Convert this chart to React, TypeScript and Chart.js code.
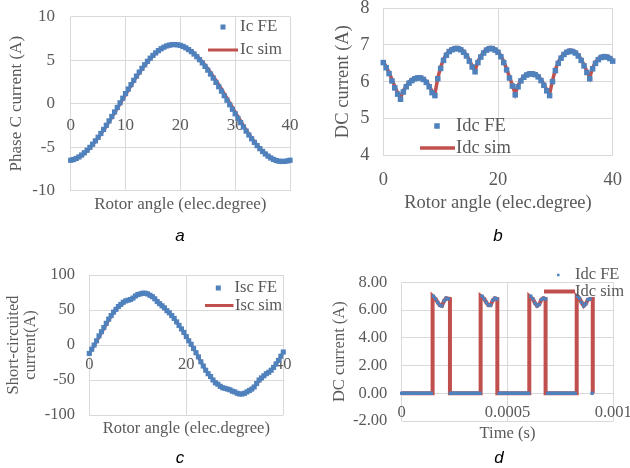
import React, { useEffect, useRef } from "react";
import { Chart, registerables } from "chart.js";

Chart.register(...registerables);

const BLUE = "#4F81BD";
const RED = "#C0504D";
const GRID = "#D9D9D9";
const TEXT = "#595959";
const SERIF = "'Liberation Serif', 'Times New Roman', Times, serif";
const SANS = "'Liberation Sans', Arial, Helvetica, sans-serif";

// ---------- shared x values ----------
const angleFine = [0,0.5,1,1.5,2,2.5,3,3.5,4,4.5,5,5.5,6,6.5,7,7.5,8,8.5,9,9.5,10,10.5,11,11.5,12,12.5,13,13.5,14,14.5,15,15.5,16,16.5,17,17.5,18,18.5,19,19.5,20,20.5,21,21.5,22,22.5,23,23.5,24,24.5,25,25.5,26,26.5,27,27.5,28,28.5,29,29.5,30,30.5,31,31.5,32,32.5,33,33.5,34,34.5,35,35.5,36,36.5,37,37.5,38,38.5,39,39.5,40];
const angleCoarse = [0,1,2,3,4,5,6,7,8,9,10,11,12,13,14,15,16,17,18,19,20,21,22,23,24,25,26,27,28,29,30,31,32,33,34,35,36,37,38,39,40];

// ---------- panel a ----------
const xTitleA = "Rotor angle (elec.degree)";
const yTitleA = "Phase C current (A)";
const feNameA = "Ic FE";
const simNameA = "Ic sim";
const xTicksA = [0, 10, 20, 30, 40];
const xTickLabelsA = ["0", "10", "20", "30", "40"];
const yTicksA = [-10, -5, 0, 5, 10];
const yTickLabelsA = ["-10", "-5", "0", "5", "10"];
const icFE = [
  -6.50,-6.42,-6.30,-6.12,-5.90,-5.64,-5.35,-5.02,-4.66,-4.27,
  -3.86,-3.42,-2.96,-2.48,-1.98,-1.47,-0.95,-0.43,0.10,0.63,
  1.16,1.68,2.19,2.69,3.17,3.63,4.07,4.48,4.87,5.23,
  5.55,5.84,6.10,6.32,6.50,6.64,6.73,6.79,6.80,6.77,
  6.70,6.58,6.42,6.22,5.98,5.71,5.40,5.06,4.69,4.29,
  3.86,3.41,2.94,2.45,1.95,1.44,0.92,0.40,-0.12,-0.64,
  -1.16,-1.68,-2.18,-2.67,-3.15,-3.60,-4.03,-4.44,-4.82,-5.17,
  -5.49,-5.78,-6.03,-6.24,-6.41,-6.53,-6.61,-6.64,-6.63,-6.58,
  -6.50
];
const icSim = [-6.55,-6.38,-5.98,-5.42,-4.75,-3.95,-3.08,-2.12,-1.10,-0.05,1.00,2.05,3.05,3.95,4.75,5.45,6.02,6.44,6.70,6.80,6.72,6.48,6.08,5.52,4.84,4.05,3.18,2.22,1.20,0.15,-0.92,-1.97,-2.98,-3.90,-4.72,-5.42,-5.98,-6.38,-6.62,-6.68,-6.58];

// ---------- panel b ----------
const xTitleB = "Rotor angle (elec.degree)";
const yTitleB = "DC current (A)";
const feNameB = "Idc FE";
const simNameB = "Idc sim";
const xTicksB = [0, 20, 40];
const xTickLabelsB = ["0", "20", "40"];
const yTicksB = [4, 5, 6, 7, 8];
const yTickLabelsB = ["4", "5", "6", "7", "8"];
const idcFE = [
  6.52,6.38,6.22,6.02,5.83,5.66,5.52,5.72,5.86,5.96,
  6.03,6.08,6.10,6.10,6.06,5.98,5.86,5.70,5.62,6.08,
  6.36,6.58,6.72,6.82,6.87,6.90,6.90,6.87,6.80,6.70,
  6.56,6.40,6.27,6.52,6.67,6.78,6.86,6.90,6.90,6.86,
  6.80,6.68,6.52,6.32,6.10,5.88,5.64,5.86,6.02,6.12,
  6.18,6.21,6.21,6.19,6.13,6.03,5.90,5.75,5.62,6.00,
  6.30,6.50,6.64,6.74,6.80,6.83,6.82,6.78,6.70,6.58,
  6.43,6.25,6.08,6.35,6.50,6.60,6.66,6.68,6.67,6.63,
  6.56
];
const idcSim = [
  6.55,6.41,6.25,6.06,5.87,5.70,5.56,5.75,5.89,5.99,
  6.06,6.11,6.13,6.13,6.09,6.01,5.89,5.74,5.66,6.10,
  6.39,6.61,6.75,6.85,6.90,6.93,6.93,6.90,6.83,6.73,
  6.59,6.43,6.30,6.55,6.70,6.81,6.89,6.93,6.93,6.89,
  6.83,6.71,6.55,6.35,6.13,5.91,5.67,5.89,6.05,6.15,
  6.21,6.24,6.24,6.22,6.16,6.06,5.93,5.78,5.66,6.03,
  6.33,6.53,6.67,6.77,6.83,6.86,6.85,6.81,6.73,6.61,
  6.46,6.28,6.11,6.38,6.53,6.63,6.69,6.71,6.70,6.66,
  6.59
];

// ---------- panel c ----------
const xTitleC = "Rotor angle (elec.degree)";
const yTitleC = ["Short-circuited", "current(A)"];
const feNameC = "Isc FE";
const simNameC = "Isc sim";
const xTicksC = [0, 20, 40];
const xTickLabelsC = ["0", "20", "40"];
const yTicksC = [-100, -50, 0, 50, 100];
const yTickLabelsC = ["-100", "-50", "0", "50", "100"];
const iscFE = [
  -12,-6,0,6,13,19,25,31,37,42,
  47,51,55,58,61,63,64,65,67,70,
  72,73,74,74,73,71,69,66,62,59,
  56,53,49,46,42,38,33,28,23,18,
  12,6,1,-5,-11,-17,-24,-30,-36,-41,
  -45,-50,-54,-56,-59,-61,-62,-63,-64,-66,
  -67,-69,-70,-70,-69,-67,-65,-63,-60,-55,
  -50,-47,-44,-41,-39,-36,-32,-27,-22,-16,
  -10
];
const iscSim = [-13,-1,11,23,35,46,54,60,64,67,71,74,74,70,63,56,49,42,33,23,12,1,-11,-24,-36,-45,-53,-58,-62,-65,-68,-70,-69,-65,-59,-52,-45,-39,-32,-22,-10];

// ---------- panel d ----------
const xTitleD = "Time (s)";
const yTitleD = "DC current (A)";
const feNameD = "Idc FE";
const simNameD = "Idc sim";
const xTicksD = [0, 0.0005, 0.001];
const xTickLabelsD = ["0", "0.0005", "0.001"];
const yTicksD = [-2, 0, 2, 4, 6, 8];
const yTickLabelsD = ["-2.00", "0.00", "2.00", "4.00", "6.00", "8.00"];
const timeFeUs = [0,10,20,30,40,50,60,70,80,90,100,110,120,130,140,150,160,170,180,190,200,210,220,230,240,250,260,270,280,290,300,310,320,330,340,350,360,370,380,390,400,410,420,430,440,450,460,470,480,490,500,510,520,530,540,550,560,570,580,590,600,610,620,630,640,650,660,670,680,690,700,710,720,730,740,750,760,770,780,790,800,810,820,830,840,850,860,870,880,890,900];
const idcFeD = [
  0,0,0,0,0,0,0,0,0,0,0,0,0,0,0,
  7.0,6.8,6.55,6.35,6.3,6.65,6.85,6.8,
  0,0,0,0,0,0,0,0,0,0,0,0,0,0,0,
  7.0,6.8,6.55,6.35,6.35,6.7,6.85,6.8,
  0,0,0,0,0,0,0,0,0,0,0,0,0,0,0,
  7.0,6.8,6.5,6.3,6.4,6.75,6.85,6.8,
  0,0,0,0,0,0,0,0,0,0,0,0,0,0,
  7.0,6.85,6.55,6.3,6.45,6.75,6.8,
  0
];
const timeSimUs = [0,146,146,160,170,180,190,200,210,228,228,373,373,390,400,410,420,430,440,452,452,603,603,620,630,640,650,660,670,680,680,827,827,840,850,860,870,880,890,903,903];
const idcSimD = [0,0,7.0,6.8,6.55,6.35,6.3,6.65,6.85,6.8,0,0,7.0,6.8,6.55,6.35,6.35,6.7,6.85,6.8,0,0,7.0,6.8,6.5,6.3,6.4,6.75,6.85,6.8,0,0,7.0,6.85,6.55,6.3,6.45,6.75,6.8,6.8,0];

// ---------- panel specs (layout/style) ----------
const specA = {
  geo: { L: 0, T: 0, W: 315, H: 230, left: 70.7, top: 16.7, right: 290, bottom: 190.7 },
  fs: 17,
  x: { min: 0, max: 40, ticks: xTicksA, labels: xTickLabelsA, atZero: true, tickY: 126, titleY: 205, title: xTitleA },
  y: { min: -10, max: 10, ticks: yTicksA, labels: yTickLabelsA, tickRight: 55, titleX: 17, title: yTitleA, lh: 1.2 },
  fe: { name: feNameA, x: angleFine, y: icFE, r: 3.7 },
  sim: { name: simNameA, x: angleCoarse, y: icSim, w: 3, tension: 0.3 },
  legend: [
    { kind: "point", mx: 223, y: 27, size: 5, text: feNameA, tx: 240 },
    { kind: "line", x1: 208, x2: 238, y: 50, size: 3, text: simNameA, tx: 240 },
  ],
};
const specB = {
  geo: { L: 315, T: 0, W: 315, H: 230, left: 383.3, top: 8.3, right: 612.7, bottom: 155 },
  fs: 18.5,
  x: { min: 0, max: 40, ticks: xTicksB, labels: xTickLabelsB, atZero: false, tickY: 180, titleY: 203, title: xTitleB },
  y: { min: 4, max: 8, ticks: yTicksB, labels: yTickLabelsB, tickRight: 369.5, titleX: 343.3, title: yTitleB, lh: 1.2 },
  fe: { name: feNameB, x: angleFine, y: idcFE, r: 3.9 },
  sim: { name: simNameB, x: angleFine, y: idcSim, w: 3.5, tension: 0 },
  legend: [
    { kind: "point", mx: 437, y: 126, size: 5.5, text: feNameB, tx: 456 },
    { kind: "line", x1: 420, x2: 455, y: 148, size: 3.5, text: simNameB, tx: 456 },
  ],
};
const specC = {
  geo: { L: 0, T: 235, W: 315, H: 215, left: 89.3, top: 275, right: 283.3, bottom: 415 },
  fs: 16.5,
  x: { min: 0, max: 40, ticks: xTicksC, labels: xTickLabelsC, atZero: true, tickY: 365, titleY: 428.3, title: xTitleC },
  y: { min: -100, max: 100, ticks: yTicksC, labels: yTickLabelsC, tickRight: 75, titleX: 13.3, title: yTitleC, lh: 1.05 },
  fe: { name: feNameC, x: angleFine, y: iscFE, r: 3.6 },
  sim: { name: simNameC, x: angleCoarse, y: iscSim, w: 3, tension: 0.3 },
  legend: [
    { kind: "point", mx: 218.3, y: 288, size: 5, text: feNameC, tx: 234.5 },
    { kind: "line", x1: 205, x2: 233.5, y: 305.5, size: 3, text: simNameC, tx: 235 },
  ],
};
const specD = {
  geo: { L: 315, T: 235, W: 315, H: 215, left: 401.7, top: 282.3, right: 613.3, bottom: 421 },
  fs: 16.5,
  x: { min: 0, max: 0.001, ticks: xTicksD, labels: xTickLabelsD, atZero: true, tickY: 413, titleY: 434, title: xTitleD },
  y: { min: -2, max: 8, ticks: yTicksD, labels: yTickLabelsD, tickRight: 387.3, titleX: 340, title: yTitleD, lh: 1.2 },
  fe: { name: feNameD, x: timeFeUs.map((t) => t / 1e6), y: idcFeD, r: 2.4 },
  sim: { name: simNameD, x: timeSimUs.map((t) => t / 1e6), y: idcSimD, w: 4, tension: 0 },
  legend: [
    { kind: "point", mx: 558.3, y: 275, size: 2.5, text: feNameD, tx: 575 },
    { kind: "line", x1: 544, x2: 575, y: 291.5, size: 4, text: simNameD, tx: 575 },
  ],
};

function makeLegendPlugin(spec: any) {
  return {
    id: "inlineLegend",
    afterDraw(chart: any) {
      const { ctx } = chart;
      const g = spec.geo;
      ctx.save();
      ctx.font = `${spec.fs}px ${SERIF}`;
      ctx.textBaseline = "middle";
      ctx.textAlign = "left";
      for (const row of spec.legend) {
        const y = row.y - g.T;
        if (row.kind === "point") {
          ctx.fillStyle = BLUE;
          ctx.fillRect(row.mx - g.L - row.size / 2, y - row.size / 2, row.size, row.size);
        } else {
          ctx.strokeStyle = RED;
          ctx.lineWidth = row.size;
          ctx.beginPath();
          ctx.moveTo(row.x1 - g.L, y);
          ctx.lineTo(row.x2 - g.L, y);
          ctx.stroke();
        }
        ctx.fillStyle = TEXT;
        ctx.fillText(row.text, row.tx - g.L, y);
      }
      ctx.restore();
    },
  };
}

function buildConfig(s: any): any {
  const g = s.geo;
  const font = { family: SERIF, size: s.fs, lineHeight: 1.2 };
  const lh = s.fs * 1.2;
  const xs = s.x;
  const ys = s.y;
  const zeroY = g.top + (ys.max / (ys.max - ys.min)) * (g.bottom - g.top);
  const tickAxisY = xs.atZero ? zeroY : g.bottom;
  const xTickPad = xs.tickY - tickAxisY - lh / 2;
  const yTitleLhPx = s.fs * ys.lh;
  const setTicks = (vals: number[]) => (axis: any) => {
    axis.ticks = vals.map((v) => ({ value: v }));
  };
  const fmt = (labels: string[]) => (_v: any, i: number) => labels[i];

  const scales: any = {
    x: {
      type: "linear",
      min: xs.min,
      max: xs.max,
      position: "bottom",
      border: { display: false },
      grid: { color: GRID, lineWidth: 1, drawTicks: false },
      ticks: {
        display: !xs.atZero,
        color: TEXT,
        font,
        padding: xTickPad,
        autoSkip: false,
        maxRotation: 0,
        callback: fmt(xs.labels),
      },
      afterBuildTicks: setTicks(xs.ticks),
      title: {
        display: true,
        text: xs.title,
        color: TEXT,
        font,
        padding: { top: 0, bottom: g.H - (xs.titleY - g.T) - lh / 2 },
      },
      afterFit: (a: any) => {
        a.height = g.T + g.H - g.bottom;
        a.paddingLeft = 0;
        a.paddingRight = 0;
      },
    },
    y: {
      type: "linear",
      min: ys.min,
      max: ys.max,
      position: "left",
      border: { display: false },
      grid: { color: GRID, lineWidth: 1, drawTicks: false },
      ticks: {
        color: TEXT,
        font,
        padding: g.left - ys.tickRight,
        autoSkip: false,
        callback: fmt(ys.labels),
      },
      afterBuildTicks: setTicks(ys.ticks),
      title: {
        display: true,
        text: ys.title,
        color: TEXT,
        font: { family: SERIF, size: s.fs, lineHeight: ys.lh },
        padding: { top: ys.titleX - g.L - yTitleLhPx / 2, bottom: 0 },
      },
      afterFit: (a: any) => {
        a.width = g.left - g.L;
        a.paddingTop = 0;
        a.paddingBottom = 0;
      },
    },
  };
  if (xs.atZero) {
    scales.x2 = {
      type: "linear",
      min: xs.min,
      max: xs.max,
      position: { y: 0 },
      border: { display: false },
      grid: { display: false, drawTicks: false },
      ticks: {
        color: TEXT,
        font,
        padding: xTickPad,
        autoSkip: false,
        maxRotation: 0,
        callback: fmt(xs.labels),
      },
      afterBuildTicks: setTicks(xs.ticks),
      afterFit: (a: any) => {
        a.paddingLeft = 0;
        a.paddingRight = 0;
      },
    };
  }

  return {
    type: "line",
    data: {
      datasets: [
        {
          label: s.fe.name,
          data: s.fe.x.map((x: number, i: number) => ({ x, y: s.fe.y[i] })),
          showLine: false,
          pointStyle: "rect",
          pointRadius: s.fe.r,
          pointHoverRadius: s.fe.r,
          pointBackgroundColor: BLUE,
          pointBorderColor: BLUE,
          pointBorderWidth: 0,
          clip: false,
          xAxisID: "x",
          yAxisID: "y",
        },
        {
          label: s.sim.name,
          data: s.sim.x.map((x: number, i: number) => ({ x, y: s.sim.y[i] })),
          borderColor: RED,
          backgroundColor: RED,
          borderWidth: s.sim.w,
          pointRadius: 0,
          pointHoverRadius: 0,
          tension: s.sim.tension,
          fill: false,
          clip: false,
          xAxisID: "x",
          yAxisID: "y",
        },
      ],
    },
    options: {
      responsive: false,
      animation: false,
      devicePixelRatio: 1,
      events: [],
      layout: {
        padding: { left: 0, top: g.top - g.T, right: g.L + g.W - g.right, bottom: 0 },
      },
      plugins: {
        legend: { display: false },
        tooltip: { enabled: false },
      },
      scales,
    },
    plugins: [makeLegendPlugin(s)],
  };
}

function Panel({ spec }: { spec: any }) {
  const ref = useRef<HTMLCanvasElement>(null);
  useEffect(() => {
    if (!ref.current) return;
    const chart = new Chart(ref.current, buildConfig(spec));
    return () => chart.destroy();
  }, [spec]);
  const g = spec.geo;
  return (
    <canvas
      ref={ref}
      width={g.W}
      height={g.H}
      style={{ position: "absolute", left: g.L, top: g.T, width: g.W, height: g.H }}
    />
  );
}

const captionStyle = (x: number, y: number): React.CSSProperties => ({
  position: "absolute",
  left: x,
  top: y,
  transform: "translate(-50%, -50%)",
  font: `italic 17px ${SANS}`,
  lineHeight: "1",
  color: "#000",
});

export default function App() {
  return (
    <div
      style={{
        position: "absolute",
        left: 0,
        top: 0,
        width: 630,
        height: 468,
        overflow: "hidden",
        background: "#fff",
      }}
    >
      <Panel spec={specA} />
      <Panel spec={specB} />
      <Panel spec={specC} />
      <Panel spec={specD} />
      <span style={captionStyle(180, 235)}>a</span>
      <span style={captionStyle(498, 235)}>b</span>
      <span style={captionStyle(180, 457)}>c</span>
      <span style={captionStyle(499, 457)}>d</span>
    </div>
  );
}
